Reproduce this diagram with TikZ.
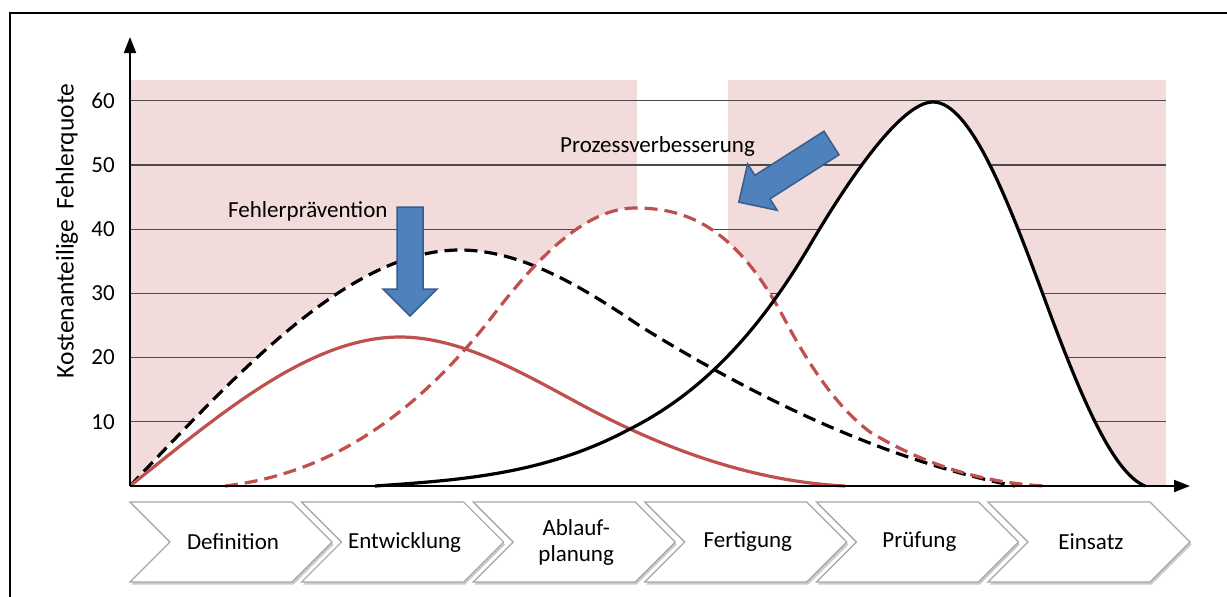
\documentclass[tikz,border=0pt]{standalone}
\usepackage{fontspec}
\setmainfont{Carlito}
\usetikzlibrary{arrows.meta,shadows}
\definecolor{pinkbg}{HTML}{F2DCDB}
\definecolor{curvered}{HTML}{C0504D}
\definecolor{arrowblue}{HTML}{4F81BD}
\definecolor{arrowedge}{HTML}{385D8A}
\definecolor{gridgray}{HTML}{4A4A4A}
\definecolor{chevgray}{HTML}{A6A6A6}
% black dashed
\def\curveBD{(130,486) .. controls (240,370.5) and (350,250) .. (460,250)
  .. controls (520,250) and (580,285.2) .. (640,326)
  .. controls (765,403.5) and (890,461) .. (1015,486)}
% red solid
\def\curveRS{(130,486) .. controls (220,414) and (310,337) .. (400,337)
  .. controls (460,337) and (520,371.6) .. (580,404)
  .. controls (668.3,451.7) and (756.7,481.6) .. (845,486)}
% red dashed
\def\curveRD{(225,486) .. controls (315,475.2) and (405,430) .. (495,313)
  .. controls (541.7,252.3) and (588.3,208) .. (635,208)
  .. controls (685,208) and (735,225) .. (785,320)
  .. controls (813.3,373.8) and (841.7,410.8) .. (870,432)
  .. controls (928.3,467) and (986.7,483.1) .. (1045,486)}
% black solid
\def\curveBS{(375,486) .. controls (459.3,480.1) and (543.7,474.7) .. (628,430)
  .. controls (688.7,399.7) and (749.3,348.2) .. (810,245)
  .. controls (845,185.5) and (900,102) .. (933,102)
  .. controls (970.3,102) and (1007.7,199.2) .. (1045,300)
  .. controls (1078.3,390) and (1111.7,472.7) .. (1145,486)}
\begin{document}
\begin{tikzpicture}[x=1pt,y=-1pt,
  font=\fontsize{23}{26}\selectfont,
  curve/.style={line width=3.2pt,line join=round},
  dashcurve/.style={curve,dash pattern=on 13pt off 7pt},
  gridline/.style={gridgray,line width=1.2pt},
  axisline/.style={line width=2pt,-{Triangle[length=16pt,width=12pt]}},
  chev/.style={fill=white,draw=chevgray,line width=1.2pt,line join=miter,
    drop shadow={shadow xshift=1.5pt,shadow yshift=-2.5pt,opacity=0.35,fill=black!60}},
  bluearrow/.style={fill=arrowblue,draw=arrowedge,line width=1.5pt,line join=miter},
  lbl/.style={inner sep=0pt}]
\useasboundingbox (0,0) rectangle (1227,597);
% frame (only top and left visible)
\draw[line width=2pt] (10,597) -- (10,13) -- (1227,13);
% pink background
\fill[pinkbg] (130,80) rectangle (637,486);
\fill[pinkbg] (728,80) rectangle (1166,486);
% grid lines
\foreach \v in {10,20,...,60}{
  \draw[gridline] (130,486-6.42*\v) -- (1166,486-6.42*\v);
  \node[lbl,anchor=east] (t\v) at (115,486-6.42*\v) {\v};
}
% white areas under the curves
\fill[white] \curveBD -- cycle;
\fill[white] \curveRD -- cycle;
\fill[white] \curveBS -- cycle;
% curves
\draw[dashcurve,black] \curveBD;
\draw[curve,curvered] \curveRS;
\draw[dashcurve,curvered] \curveRD;
\draw[curve,black] \curveBS;
% axes
\coordinate (origin) at (130,486);
\coordinate (ytip) at (130,37);
\coordinate (xtip) at (1190,486);
\draw[axisline] (origin) -- (ytip);
\draw[axisline] (origin) -- (xtip);
% axis label
\node[lbl,rotate=90,font=\fontsize{25.5}{28}\selectfont] (ylabel) at (67,231) {Kostenanteilige\, Fehlerquote};
% blue arrows
\draw[bluearrow] (397,207) -- (423,207) -- (423,289) -- (437,289) -- (410,316) -- (383,289) -- (397,289) -- cycle;
\draw[bluearrow] (824,131.2) -- (839,154.8) -- (770,198.9) -- (777.2,210.3) -- (738.8,202.2) -- (747.6,163.9) -- (754.9,175.3) -- cycle;
\node[lbl,anchor=base west] (fp) at (228,217) {Fehlerprävention};
\node[lbl,anchor=base west] (pv) at (560,152) {Prozessverbesserung};
% phase chevrons
\foreach \i/\lab in {0/Definition,1/Entwicklung,2/{Ablauf-\\planung},3/Fertigung,4/Prüfung,5/Einsatz}{
  \pgfmathsetmacro\L{130+171.6*\i}
  \path[chev] (\L,502) -- ++(162,0) -- ++(40,40) -- ++(-40,40) -- ++(-162,0) -- ++(40,-40) -- cycle;
  \node[align=center,inner sep=0pt] (chev\i) at (\L+103,542) {\lab};
}
\end{tikzpicture}
\end{document}
